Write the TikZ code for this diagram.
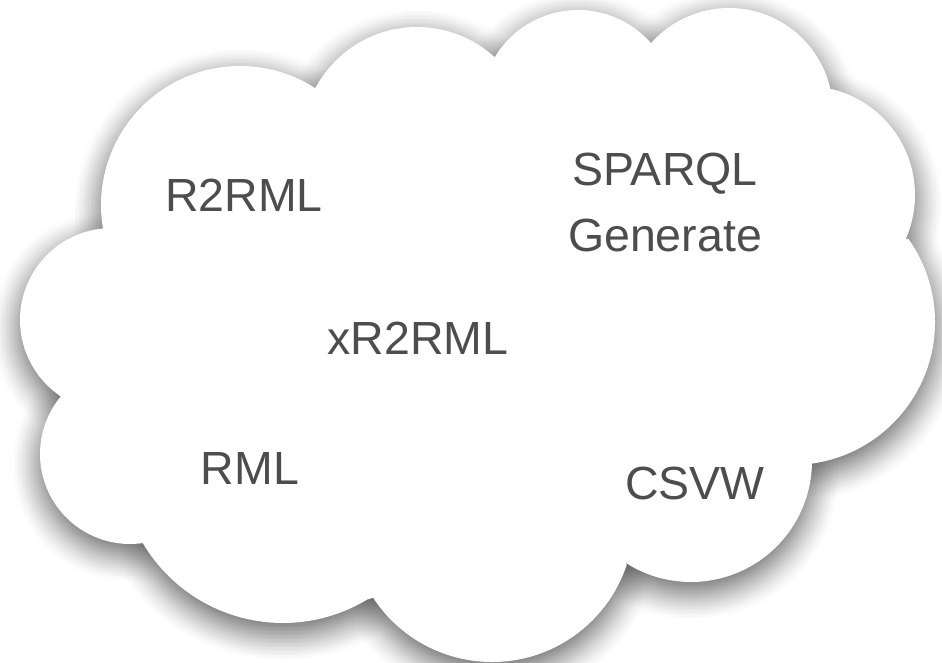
\documentclass[tikz,border=0pt]{standalone}
\usepackage{fontspec}
\setmainfont{Liberation Sans}
\definecolor{labelgray}{HTML}{4D4D4D}
\tikzset{
  % outline of the cloud: eleven circular lobes joined at their cusps
  cloudpath/.style={insert path={
    ([shift={(240,457)}]57.3:139) arc[start angle=57.3,end angle=189.5,radius=139pt]
    -- ([shift={(112,342)}]95.6:92) arc[start angle=95.6,end angle=237.2,radius=92pt]
    -- ([shift={(130,208)}]136.8:90) arc[start angle=136.8,end angle=278.3,radius=90pt]
    -- ([shift={(283,202)}]210.7:163) arc[start angle=210.7,end angle=301.1,radius=163pt]
    -- ([shift={(492,142)}]213.2:142) arc[start angle=213.2,end angle=341.6,radius=142pt]
    -- ([shift={(691,201)}]237:121) arc[start angle=237,end angle=359,radius=121pt]
    -- ([shift={(792,340)}]277.7:143) arc[start angle=277.7,end angle=395.7,radius=143pt]
    -- ([shift={(806,467)}]335.8:109) arc[start angle=335.8,end angle=436.6,radius=109pt]
    -- ([shift={(729,550)}]12.2:104) arc[start angle=12.2,end angle=138.5,radius=104pt]
    -- ([shift={(578,555)}]41.2:97) arc[start angle=41.2,end angle=149.7,radius=97pt]
    -- ([shift={(417,520)}]47.5:115) arc[start angle=47.5,end angle=150.3,radius=115pt]
    -- cycle}},
  shadowlayer/.style={fill=black, opacity=0.0045},
  lbl/.style={text=labelgray, inner sep=0pt, font=\fontsize{46.5}{66}\selectfont}
}
\begin{document}
\begin{tikzpicture}[x=1pt,y=1pt]
  \fill[white] (0,0) rectangle (942,662);
  \useasboundingbox (0,0) rectangle (942,662);

  % soft drop shadow: the outline filled many times at offsets
  % spread over a disc, so the translucent copies add up to a blur
  \foreach \dx in {-30,-26,...,30}{
    \foreach \dy in {-30,-26,...,30}{
      \pgfmathtruncatemacro\indisc{(\dx*\dx+\dy*\dy<=900)?1:0}
      \ifnum\indisc=1
        \path[shadowlayer, shift={(\dx,\dy-10)}, cloudpath];
      \fi
    }
  }

  % the cloud itself
  \fill[white, cloudpath];

  % labels
  \node[lbl, anchor=base] (r2rml) at (244,450) {R2RML};
  \node[lbl, anchor=center, align=center] (sparql) at (665,459.5) {SPARQL\\Generate};
  \node[lbl, anchor=base] (xr2rml) at (418,307) {xR2RML};
  \node[lbl, anchor=base] (rml) at (250,178) {RML};
  \node[lbl, anchor=base] (csvw) at (695,163) {CSVW};
\end{tikzpicture}
\end{document}
